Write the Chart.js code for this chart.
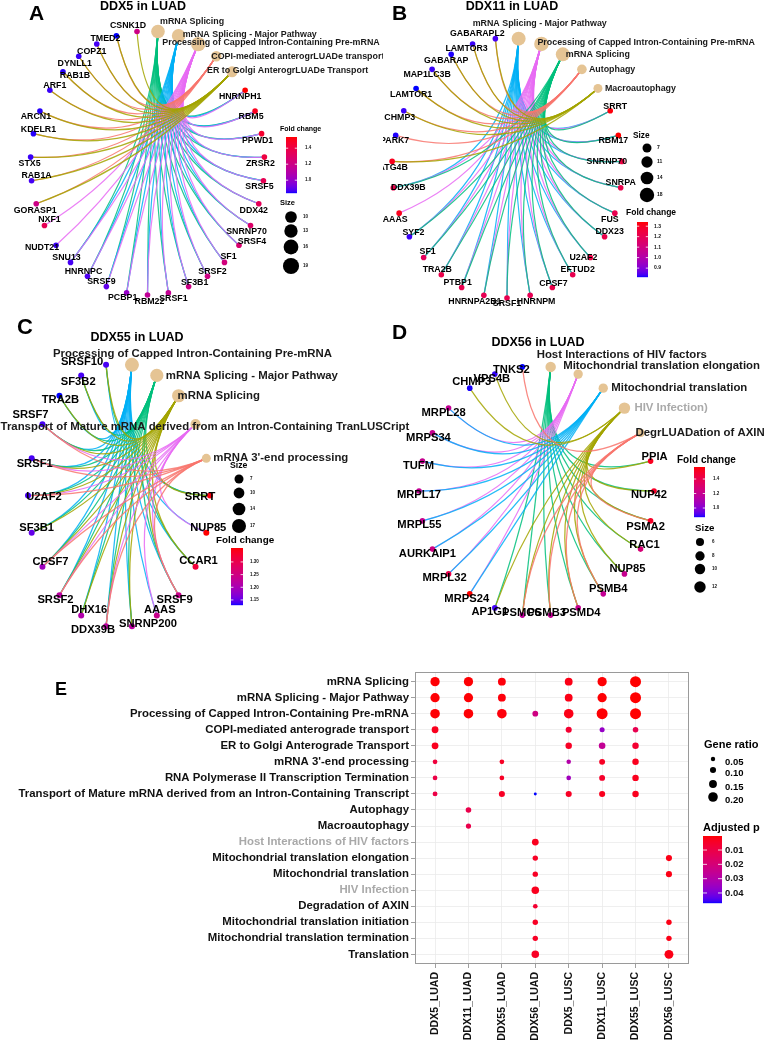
<!DOCTYPE html>
<html><head><meta charset="utf-8">
<script src="https://cdn.jsdelivr.net/npm/chart.js@4.4.1/dist/chart.umd.min.js"></script>
<style>
html,body{margin:0;padding:0;background:#fff;}
body{width:767px;height:1045px;position:relative;overflow:hidden;font-family:"Liberation Sans",Arial,sans-serif;}
canvas{position:absolute;}
.t{position:absolute;font-weight:bold;color:#000;white-space:nowrap;line-height:1;}
.title{font-size:12.5px;width:200px;text-align:center;}
.letter{font-size:21px;}
</style></head><body>
<canvas id="cA" width="383" height="310" style="left:0;top:0"></canvas>
<canvas id="cB" width="384" height="310" style="left:383px;top:0"></canvas>
<canvas id="cC" width="430" height="330" style="left:0;top:310px"></canvas>
<canvas id="cD" width="384" height="330" style="left:383px;top:310px"></canvas>
<canvas id="cE" width="767" height="405" style="left:0;top:640px"></canvas>
<div class="t letter" style="left:29px;top:2px">A</div>
<div class="t letter" style="left:392px;top:2px">B</div>
<div class="t letter" style="left:17px;top:316px;font-size:22px">C</div>
<div class="t letter" style="left:392px;top:321px">D</div>
<div class="t letter" style="left:55px;top:680px;font-size:18px">E</div>
<div class="t title" style="left:43px;top:0px">DDX5 in LUAD</div>
<div class="t title" style="left:412px;top:0px">DDX11 in LUAD</div>
<div class="t title" style="left:37px;top:331px">DDX55 in LUAD</div>
<div class="t title" style="left:438px;top:336px">DDX56 in LUAD</div>
<script>
// ================= DATA =================
// Panel A: DDX5 in LUAD
const pathwaysA = ["mRNA Splicing", "mRNA Splicing - Major Pathway", "Processing of Capped Intron-Containing Pre-mRNA", "COPI-mediated anterogrLUADe transport", "ER to Golgi AnterogrLUADe Transport"];
const genesA = ["HNRNPH1","RBM5","PPWD1","ZRSR2","SRSF5","DDX42","SNRNP70","SRSF4","SF1","SRSF2","SF3B1","SRSF1","RBM22","PCBP1","SRSF9","HNRNPC","SNU13","NUDT21","NXF1","GORASP1","RAB1A","STX5","KDELR1","ARCN1","ARF1","RAB1B","DYNLL1","COPZ1","TMED2","CSNK1D"];
const foldChangeA = [1.54,1.50,1.46,1.41,1.36,1.34,1.29,1.27,1.23,1.21,1.20,1.16,1.15,1.00,0.90,0.88,0.87,0.86,1.35,1.20,0.87,0.86,0.85,0.85,0.86,0.85,0.86,0.87,0.84,1.20];
const memberA = [[0,1,2],[0,1,2],[0,1,2],[0,1,2],[0,1,2],[0,1,2],[0,1,2],[0,1,2],[0,1,2],[0,1,2],[0,1,2],[0,1,2],[0,1,2],[0,1,2],[0,1,2],[0,1,2],[0,1,2],[2],[2],[3,4],[3,4],[3,4],[3,4],[3,4],[3,4],[3,4],[3,4],[3,4],[3,4],[4]];
const sizeBreaksA = [10,13,16,19];
const fcTicksA = [1.0,1.2,1.4];

// Panel B: DDX11 in LUAD
const pathwaysB = ["mRNA Splicing - Major Pathway", "Processing of Capped Intron-Containing Pre-mRNA", "mRNA Splicing", "Autophagy", "Macroautophagy"];
const genesB = ["SRRT","RBM17","SNRNP70","SNRPA","FUS","DDX23","U2AF2","EFTUD2","CPSF7","HNRNPM","SRSF1","HNRNPA2B1","PTBP1","TRA2B","SF1","SYF2","AAAS","DDX39B","ATG4B","PARK7","CHMP3","LAMTOR1","MAP1LC3B","GABARAP","LAMTOR3","GABARAPL2"];
const foldChangeB = [1.33,1.34,1.24,1.22,1.21,1.22,1.23,1.21,1.22,1.20,1.21,1.20,1.21,1.22,1.18,0.83,1.31,1.22,1.31,0.82,0.83,0.815,0.83,0.82,0.83,0.84];
const memberB = [[0,1,2],[0,1,2],[0,1,2],[0,1,2],[0,1,2],[0,1,2],[0,1,2],[0,1,2],[0,1,2],[0,1,2],[0,1,2],[0,1,2],[0,1,2],[0,1,2],[0,1,2],[0,1,2],[1],[0,1,2],[3,4],[3],[3,4],[3,4],[3,4],[3,4],[3,4],[3,4]];
const sizeBreaksB = [7,11,14,18];
const fcTicksB = [0.9,1.0,1.1,1.2,1.3];

// Panel C: DDX55 in LUAD
const pathwaysC = ["Processing of Capped Intron-Containing Pre-mRNA", "mRNA Splicing - Major Pathway", "mRNA Splicing", "Transport of Mature mRNA derived from an Intron-Containing TranLUSCript", "mRNA 3'-end processing"];
const genesC = ["SRRT","NUP85","CCAR1","SRSF9","AAAS","SNRNP200","DDX39B","DHX16","SRSF2","CPSF7","SF3B1","U2AF2","SRSF1","SRSF7","TRA2B","SF3B2","SRSF10"];
const foldChangeC = [1.35,1.355,1.32,1.24,1.24,1.22,1.22,1.21,1.22,1.19,1.15,1.14,1.14,1.14,1.13,1.14,1.14];
const memberC = [[0,1,2],[0,3],[0,1,2],[0,1,2,3,4],[0,3],[0,1,2],[0,1,2,3,4],[0,1,2],[0,1,2,3,4],[0,1,2,3,4],[0,1,2],[0,1,2,3,4],[0,1,2,3,4],[0,1,2,3,4],[0,1,2],[0,1,2],[0,1,2]];
const sizeBreaksC = [7,10,14,17];
const fcTicksC = [1.15,1.20,1.25,1.30];

// Panel D: DDX56 in LUAD
const pathwaysD = ["Host Interactions of HIV factors", "Mitochondrial translation elongation", "Mitochondrial translation", "HIV Infection)", "DegrLUADation of AXIN"];
const genesD = ["PPIA","NUP42","PSMA2","RAC1","NUP85","PSMB4","PSMD4","PSMB3","PSMC6","AP1G1","MRPS24","MRPL32","AURKAIP1","MRPL55","MRPL17","TUFM","MRPS34","MRPL28","CHMP3","VPS4B","TNKS2"];
const foldChangeD = [1.52,1.50,1.50,1.28,1.20,1.19,1.20,1.19,1.17,0.90,1.566,1.40,1.24,1.20,1.19,1.20,1.20,1.19,0.88,0.89,0.876];
const memberD = [[0,3],[0,3],[0,3,4],[0,3],[0,3],[0,3,4],[0,3,4],[0,3,4],[0,3,4],[0,3],[1,2],[1,2],[1,2],[1,2],[1,2],[1,2],[1,2],[1,2],[3],[3],[4]];
const sizeBreaksD = [6,8,10,12];
const fcTicksD = [1.0,1.2,1.4];

// Panel E: dot plot
const termsE = ["mRNA Splicing","mRNA Splicing - Major Pathway","Processing of Capped Intron-Containing Pre-mRNA","COPI-mediated anterograde transport","ER to Golgi Anterograde Transport","mRNA 3'-end processing","RNA Polymerase II Transcription Termination","Transport of Mature mRNA derived from an Intron-Containing Transcript","Autophagy","Macroautophagy","Host Interactions of HIV factors","Mitochondrial translation elongation","Mitochondrial translation","HIV Infection","Degradation of AXIN","Mitochondrial translation initiation","Mitochondrial translation termination","Translation"];
const samplesE = ["DDX5_LUAD","DDX11_LUAD","DDX55_LUAD","DDX56_LUAD","DDX5_LUSC","DDX11_LUSC","DDX55_LUSC","DDX56_LUSC"];
const grayTermsE = ["Host Interactions of HIV factors","HIV Infection"];
const geneRatioE = [
  [0.19,0.19,0.15,null,0.15,0.19,0.24,null],
  [0.19,0.19,0.15,null,0.15,0.19,0.24,null],
  [0.20,0.20,0.20,0.09,0.20,0.24,0.24,null],
  [0.12,null,null,null,0.10,0.07,0.085,null],
  [0.12,null,null,null,0.11,0.115,0.11,null],
  [0.06,null,0.06,null,0.055,0.095,0.11,null],
  [0.06,null,0.06,null,0.06,0.095,0.11,null],
  [0.065,null,0.10,0.01,0.10,0.10,0.11,null],
  [null,0.085,null,null,null,null,null,null],
  [null,0.075,null,null,null,null,null,null],
  [null,null,null,0.12,null,null,null,null],
  [null,null,null,0.08,null,null,null,0.10],
  [null,null,null,0.08,null,null,null,0.10],
  [null,null,null,0.14,null,null,null,null],
  [null,null,null,0.06,null,null,null,null],
  [null,null,null,0.08,null,null,null,0.08],
  [null,null,null,0.08,null,null,null,0.08],
  [null,null,null,0.14,null,null,null,0.18]
];
const adjPE = [
  [0.0005,0.0005,0.001,null,0.002,0.0005,0.0002,null],
  [0.0005,0.0005,0.001,null,0.002,0.0005,0.0002,null],
  [0.0005,0.0005,0.001,0.022,0.002,0.0005,0.0002,null],
  [0.003,null,null,null,0.006,0.036,0.012,null],
  [0.003,null,null,null,0.004,0.026,0.006,null],
  [0.008,null,0.004,null,0.030,0.004,0.003,null],
  [0.010,null,0.004,null,0.034,0.005,0.003,null],
  [0.010,null,0.004,0.047,0.004,0.003,0.003,null],
  [null,0.011,null,null,null,null,null,null],
  [null,0.011,null,null,null,null,null,null],
  [null,null,null,0.003,null,null,null,null],
  [null,null,null,0.004,null,null,null,0.002],
  [null,null,null,0.004,null,null,null,0.002],
  [null,null,null,0.003,null,null,null,null],
  [null,null,null,0.006,null,null,null,null],
  [null,null,null,0.004,null,null,null,0.002],
  [null,null,null,0.004,null,null,null,0.002],
  [null,null,null,0.004,null,null,null,0.002]
];
const ratioBreaksE = [0.05,0.10,0.15,0.20];
const pTicksE = [0.01,0.02,0.03,0.04];

// ================= STYLE: label nudges (px, like ggrepel offsets) =================
const nudgeA = [[-5,6],[-4,5],[-4,7],[-4,6],[-4,6],[-5,7],[-4,6],[13,-4],[4,-6],[5,-5],[6,-4],[5,6],[2,7],[-4,5],[-5,-5],[-4,-5],[-4,-5],[-14,2],[5,-6],[-1,7],[5,-5],[-1,6],[5,-4],[-4,5],[5,-5],[12,4],[-4,7],[-5,7],[-11,3],[-9,-6]];
const nudgeB = [[5,-4],[-5,5],[-15,0],[0,-5],[-5,6],[5,-5],[-7,0],[5,-5],[1,-4],[6,6],[0,6],[-9,6],[-4,-5],[-4,-5],[4,-6],[4,-4],[-4,6],[15,0],[1,6],[-1,5],[-4,7],[-5,6],[-5,5],[-5,6],[-6,5],[-18,-5]];
const nudgeC = [[-10,1],[2,-5],[3,-6],[-4,5],[3,-6],[16,-2],[-13,4],[8,-6],[-4,5],[8,-5],[5,-5],[16,1],[3,6],[-12,-9],[1,4],[-3,6],[-24,-3]];
const nudgeD = [[4,-4],[-5,4],[-5,6],[4,-4],[3,-5],[5,-5],[3,5],[-4,-2],[-1,-2],[-5,4],[-3,5],[-4,4],[-5,5],[-3,4],[0,4],[-4,5],[-4,5],[-5,5],[2,-6],[-3,5],[-11,3]];

// ================= HELPERS =================
const FONT = '"Liberation Sans", Arial, sans-serif';
const font = (s) => `bold ${s}px ${FONT}`;
function hex2rgb(h){h=h.replace('#','');return [0,2,4].map(i=>parseInt(h.substr(i,2),16));}
function rgb2lab(c){
  const f=v=>{v/=255;return v<=0.04045?v/12.92:Math.pow((v+0.055)/1.055,2.4);};
  const R=f(c[0]),G=f(c[1]),B=f(c[2]);
  let X=(R*0.4124+G*0.3576+B*0.1805)/0.95047,Y=R*0.2126+G*0.7152+B*0.0722,Z=(R*0.0193+G*0.1192+B*0.9505)/1.08883;
  const g=t=>t>0.008856?Math.cbrt(t):7.787*t+16/116;
  X=g(X);Y=g(Y);Z=g(Z);
  return [116*Y-16,500*(X-Y),200*(Y-Z)];
}
function lab2rgb(l){
  let Y=(l[0]+16)/116,X=l[1]/500+Y,Z=Y-l[2]/200;
  const h=t=>t*t*t>0.008856?t*t*t:(t-16/116)/7.787;
  X=h(X)*0.95047;Y=h(Y);Z=h(Z)*1.08883;
  const R=X*3.2406-Y*1.5372-Z*0.4986,G=-X*0.9689+Y*1.8758+Z*0.0415,B=X*0.0557-Y*0.2040+Z*1.0570;
  const c=v=>{v=v>0.0031308?1.055*Math.pow(v,1/2.4)-0.055:12.92*v;return Math.round(Math.max(0,Math.min(1,v))*255);};
  return [c(R),c(G),c(B)];
}
function rampLab(a,b,t){
  t=Math.max(0,Math.min(1,t));
  const A=rgb2lab(hex2rgb(a)),B=rgb2lab(hex2rgb(b));
  const c=lab2rgb([0,1,2].map(i=>A[i]+(B[i]-A[i])*t));
  return `rgb(${c[0]},${c[1]},${c[2]})`;
}
const HUES=['#F8766D','#A3A500','#00BF7D','#00B0F6','#E76BF3'];
function huesFor(p){const s=[...p].sort((a,b)=>a.localeCompare(b,'en',{sensitivity:'base'}));return p.map(x=>HUES[s.indexOf(x)]);}

function drawColorbar(ctx,bar,vmin,vmax,colorFn,ticks,fmt,tickX,tickSize){
  for(let y=0;y<bar.h;y++){
    const v=vmax-(y+0.5)/bar.h*(vmax-vmin);
    ctx.fillStyle=colorFn(v);ctx.fillRect(bar.x,bar.y+y,bar.w,1.2);
  }
  ctx.font=font(tickSize);ctx.textAlign='left';ctx.textBaseline='middle';
  ticks.forEach(t=>{
    const y=bar.y+(vmax-t)/(vmax-vmin)*bar.h;
    ctx.strokeStyle='#fff';ctx.lineWidth=0.8;
    ctx.beginPath();ctx.moveTo(bar.x,y);ctx.lineTo(bar.x+bar.w*0.2,y);ctx.moveTo(bar.x+bar.w*0.8,y);ctx.lineTo(bar.x+bar.w,y);ctx.stroke();
    ctx.fillStyle='#111';ctx.fillText(fmt(t),tickX,y);
  });
}

// ================= NETWORK PANELS =================
function makeNetwork(id,L,pathways,genes,fc,member,sizeBreaks,fcTicks,st){
  const N=pathways.length+genes.length,step=360/N;
  const pos=i=>{const a=(90-step/2-i*step)*Math.PI/180;return {x:Math.cos(a),y:Math.sin(a)};};
  const sizes=pathways.map((p,j)=>member.filter(m=>m.includes(j)).length);
  const fcMin=Math.min(...fc),fcMax=Math.max(...fc);
  const fcColor=v=>rampLab('#0000FF','#FF0000',(v-fcMin)/(fcMax-fcMin));
  const hues=huesFor(pathways);
  const cv=document.getElementById(id),W=cv.width,H=cv.height;
  const rad=s=>st.sizeK*Math.sqrt(s);
  const plugin={
    id:'net'+id,
    beforeDatasetsDraw(chart){
      const ctx=chart.ctx,xs=chart.scales.x,ys=chart.scales.y;
      const px=p=>[xs.getPixelForValue(p.x),ys.getPixelForValue(p.y)];
      const c=px({x:0,y:0});
      ctx.save();ctx.lineWidth=st.edgeW;ctx.globalAlpha=0.85;
      pathways.forEach((p,j)=>{
        const a=px(pos(j));ctx.strokeStyle=hues[j];
        member.forEach((m,k)=>{
          if(!m.includes(j))return;
          const b=px(pos(pathways.length+k));
          ctx.beginPath();ctx.moveTo(a[0],a[1]);ctx.quadraticCurveTo(c[0],c[1],b[0],b[1]);ctx.stroke();
        });
      });
      ctx.restore();
    },
    afterDatasetsDraw(chart){
      const ctx=chart.ctx,xs=chart.scales.x,ys=chart.scales.y;
      const px=p=>[xs.getPixelForValue(p.x),ys.getPixelForValue(p.y)];
      ctx.save();
      ctx.font=font(st.geneFont);ctx.fillStyle='#000';ctx.textAlign='center';ctx.textBaseline='middle';
      genes.forEach((g,k)=>{const p=px(pos(pathways.length+k));const n=st.nudge[k];ctx.fillText(g,p[0]+n[0],p[1]+n[1]);});
      ctx.font=font(st.pathFont);ctx.textAlign='left';
      pathways.forEach((p,j)=>{const a=px(pos(j));ctx.fillStyle=st.pathColor[j];ctx.fillText(p,a[0]+st.pathOff[j][0],a[1]+st.pathOff[j][1]);});
      ctx.restore();
    },
    afterDraw(chart){
      const ctx=chart.ctx,lg=st.legend;
      ctx.save();
      ctx.fillStyle='#000';ctx.textBaseline='middle';ctx.textAlign='left';
      ctx.font=font(lg.fcTitle[2]);ctx.fillText('Fold change',lg.fcTitle[0],lg.fcTitle[1]);
      drawColorbar(ctx,lg.bar,fcMin,fcMax,fcColor,fcTicks,v=>v.toFixed(lg.dec),lg.tickX,lg.tickSize);
      ctx.fillStyle='#000';ctx.font=font(lg.sizeTitle[2]);ctx.textAlign='left';ctx.fillText('Size',lg.sizeTitle[0],lg.sizeTitle[1]);
      sizeBreaks.forEach((b,i)=>{
        ctx.fillStyle='#000';ctx.beginPath();ctx.arc(lg.dotX,lg.dotY[i],rad(b)*lg.dotScale,0,Math.PI*2);ctx.fill();
        ctx.font=font(lg.tickSize);ctx.fillStyle='#111';ctx.fillText(String(b),lg.labX,lg.dotY[i]);
      });
      ctx.restore();
    }
  };
  return new Chart(cv,{
    type:'scatter',
    data:{datasets:[
      {data:genes.map((g,k)=>pos(pathways.length+k)),pointRadius:st.geneR,pointBackgroundColor:fc.map(fcColor),pointBorderWidth:0,pointBorderColor:'rgba(0,0,0,0)',clip:false},
      {data:pathways.map((p,j)=>pos(j)),pointRadius:sizes.map(rad),pointBackgroundColor:'#E5C494',pointBorderWidth:0,pointBorderColor:'rgba(0,0,0,0)',clip:false}
    ]},
    options:{responsive:false,animation:false,events:[],devicePixelRatio:1,
      layout:{padding:0,autoPadding:false},
      scales:{x:{type:'linear',display:false,min:-L.cx/L.rx,max:(W-L.cx)/L.rx},
              y:{type:'linear',display:false,min:-(H-L.cy)/L.ry,max:L.cy/L.ry}},
      plugins:{legend:{display:false},tooltip:{enabled:false}}},
    plugins:[plugin]
  });
}

const dark='#1a1a1a';
makeNetwork('cA',{cx:147.5,cy:163,rx:117,ry:132},pathwaysA,genesA,foldChangeA,memberA,sizeBreaksA,fcTicksA,
  {geneR:2.8,sizeK:1.65,edgeW:1.2,geneFont:8.8,pathFont:8.9,nudge:nudgeA,
   pathOff:[[2,-10],[4,-1],[-36,-2],[-5,0],[-25,-1]],pathColor:[dark,dark,dark,dark,dark],
   legend:{fcTitle:[280,129,7],bar:{x:286,y:137,w:11,h:56},tickX:305,tickSize:4.5,dec:1,
           sizeTitle:[280,203,7.5],dotX:291,dotY:[217,231,247,266],labX:303,dotScale:1.12}});
makeNetwork('cB',{cx:124,cy:168,rx:115,ry:130},pathwaysB,genesB,foldChangeB,memberB,sizeBreaksB,fcTicksB,
  {geneR:2.8,sizeK:1.7,edgeW:1.2,geneFont:8.8,pathFont:8.9,nudge:nudgeB,
   pathOff:[[-46,-15],[-4,-1],[3,0],[7,0],[7,0]],pathColor:[dark,dark,dark,dark,dark],
   legend:{fcTitle:[243,213,8.5],bar:{x:254,y:222,w:11,h:55},tickX:271,tickSize:5,dec:1,
           sizeTitle:[250,136,8.3],dotX:264,dotY:[148,162,178,195],labX:274,dotScale:1}});
makeNetwork('cC',{cx:119,cy:185.5,rx:91,ry:132},pathwaysC,genesC,foldChangeC,memberC,sizeBreaksC,fcTicksC,
  {geneR:3,sizeK:1.7,edgeW:1.25,geneFont:11.2,pathFont:11.4,nudge:nudgeC,
   pathOff:[[-79,-11],[9,0],[-1,0],[-195,3],[7,0]],pathColor:[dark,dark,dark,dark,dark],
   legend:{fcTitle:[216,230,9.9],bar:{x:231,y:238,w:12,h:57},tickX:250,tickSize:4.5,dec:2,
           sizeTitle:[230,156,8.7],dotX:239,dotY:[169,183,199,216],labX:250,dotScale:1}});
makeNetwork('cD',{cx:153.5,cy:181,rx:117.5,ry:125},pathwaysD,genesD,foldChangeD,memberD,sizeBreaksD,fcTicksD,
  {geneR:2.8,sizeK:1.65,edgeW:1.25,geneFont:11.2,pathFont:11.4,nudge:nudgeD,
   pathOff:[[-14,-12],[-15,-8],[8,0],[10,0],[-5,0]],pathColor:[dark,dark,dark,'#AAAAAA',dark],
   legend:{fcTitle:[294,150,10],bar:{x:311,y:157,w:11,h:50},tickX:330,tickSize:4.5,dec:1,
           sizeTitle:[312,218,9.7],dotX:317,dotY:[232,246,259,277],labX:329,dotScale:1}});

// ================= PANEL E =================
(function(){
  const pts=[],cols=[];
  const allP=adjPE.flat().filter(v=>v!=null);
  const pMin=Math.min(...allP),pMax=Math.max(...allP);
  const pColor=v=>rampLab('#FF0000','#0000FF',(v-pMin)/(pMax-pMin));
  const rOf=v=>1.3+17.5*v;
  termsE.forEach((t,j)=>samplesE.forEach((s,i)=>{
    const g=geneRatioE[j][i];
    if(g==null)return;
    pts.push({x:i,y:j,r:rOf(g)});cols.push(pColor(adjPE[j][i]));
  }));
  const ePlugin={
    id:'eplug',
    beforeDatasetsDraw(chart){
      const a=chart.chartArea,ctx=chart.ctx;
      ctx.save();ctx.strokeStyle='#9A9A9A';ctx.lineWidth=1;
      ctx.strokeRect(a.left+0.5,a.top+0.5,a.right-a.left-1,a.bottom-a.top-1);ctx.restore();
    },
    afterDraw(chart){
      const ctx=chart.ctx;ctx.save();
      ctx.fillStyle='#000';ctx.textAlign='left';ctx.textBaseline='middle';
      ctx.font=font(11);ctx.fillText('Gene ratio',704,105);
      const dy=[122,133,147,160];
      ratioBreaksE.forEach((b,i)=>{
        ctx.fillStyle='#000';ctx.beginPath();ctx.arc(713,dy[i]-3,rOf(b),0,Math.PI*2);ctx.fill();
        ctx.font=font(9.5);ctx.fillText(b.toFixed(2),725,dy[i]);
      });
      ctx.fillStyle='#000';ctx.font=font(11);ctx.fillText('Adjusted p',703,188);
      const bar={x:703,y:196,w:19,h:67};
      for(let y=0;y<bar.h;y++){
        const v=pMin+(y+0.5)/bar.h*(pMax-pMin);
        ctx.fillStyle=pColor(v);ctx.fillRect(bar.x,bar.y+y,bar.w,1.2);
      }
      ctx.font=font(9.5);
      pTicksE.forEach(t=>{
        const y=bar.y+(t-pMin)/(pMax-pMin)*bar.h;
        ctx.strokeStyle='#fff';ctx.lineWidth=0.8;
        ctx.beginPath();ctx.moveTo(bar.x,y);ctx.lineTo(bar.x+4,y);ctx.moveTo(bar.x+bar.w-4,y);ctx.lineTo(bar.x+bar.w,y);ctx.stroke();
        ctx.fillStyle='#111';ctx.fillText(t.toFixed(2),725,y);
      });
      ctx.restore();
    }
  };
  new Chart(document.getElementById('cE'),{
    type:'bubble',
    data:{datasets:[{data:pts,backgroundColor:cols,borderWidth:0,clip:false}]},
    options:{responsive:false,animation:false,events:[],devicePixelRatio:1,
      layout:{padding:{left:0,right:78,top:32,bottom:0},autoPadding:false},
      scales:{
        x:{type:'linear',position:'bottom',min:-0.6,max:samplesE.length-0.4,
          afterBuildTicks:s=>{s.ticks=samplesE.map((_,i)=>({value:i}));},
          afterFit:s=>{s.height=81;},
          ticks:{callback:v=>samplesE[v],autoSkip:false,minRotation:90,maxRotation:90,padding:4,color:'#111',font:{family:FONT,size:10.5,weight:'bold'}},
          grid:{color:'#EBEBEB',lineWidth:0.8,drawTicks:true,tickLength:4,tickColor:'#888'},border:{display:false}},
        y:{type:'linear',position:'left',reverse:true,min:-0.6,max:termsE.length-0.4,
          afterBuildTicks:s=>{s.ticks=termsE.map((_,i)=>({value:i}));},
          afterFit:s=>{s.width=415;},
          ticks:{callback:v=>termsE[v],autoSkip:false,padding:2,
            color:c=>grayTermsE.includes(termsE[c.tick?c.tick.value:c.index])?'#A9A9A9':'#111',
            font:{family:FONT,size:11.4,weight:'bold'}},
          grid:{color:'#EBEBEB',lineWidth:0.8,drawTicks:true,tickLength:4,tickColor:'#888'},border:{display:false}}
      },
      plugins:{legend:{display:false},tooltip:{enabled:false}}},
    plugins:[ePlugin]
  });
})();
</script>
</body></html>
